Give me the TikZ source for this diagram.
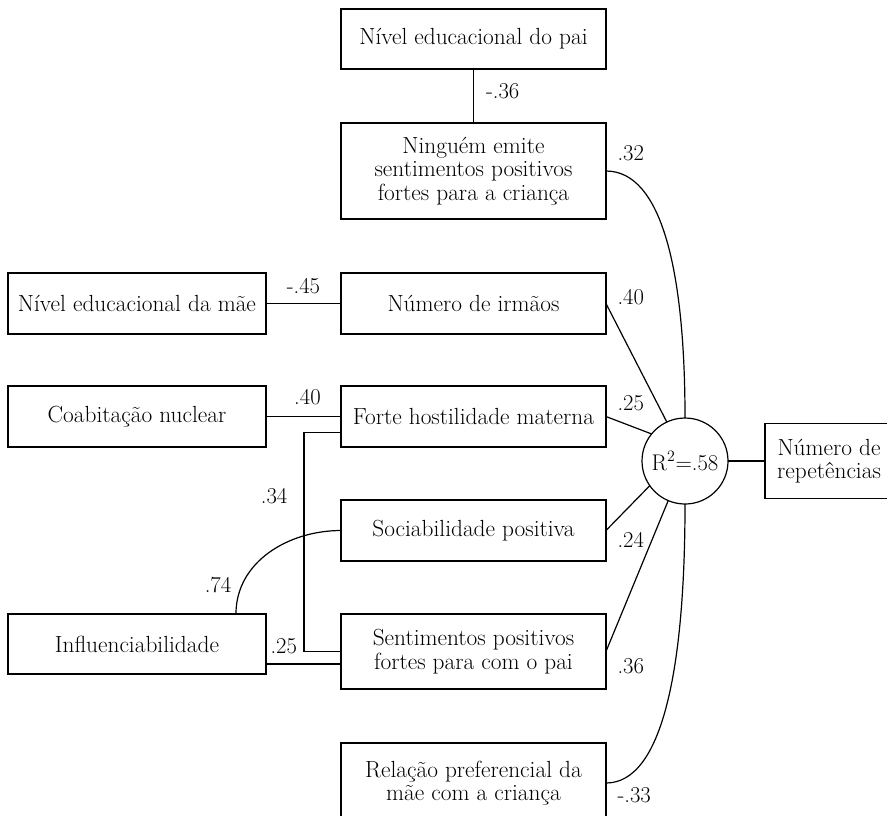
\documentclass[tikz,border=0pt]{standalone}
\usepackage{tikz}
\usetikzlibrary{positioning, calc}

\begin{document}
\begin{tikzpicture}[line width=0.9pt]

	\tikzstyle{var}=[draw=black, align=center, inner sep=0, outer sep=0, minimum width=198.75pt, minimum height=45.75pt, font=\fontsize{17.5}{17.6}\selectfont];
	\tikzstyle{ext}=[var, minimum width=193.5pt];
	\tikzstyle{coef}=[inner sep=0, font=\fontsize{17}{17.6}\selectfont];

	\useasboundingbox (0,0) rectangle (665.25pt,-611.25pt);
	\clip (0,0) rectangle (665.25pt,-611.25pt);

	\node (pai) [var, minimum height=45pt] at (355.1pt,-29.25pt) {Nível educacional do pai};
	\node (nin) [var, minimum height=72pt, below=40.5pt of pai] {Ninguém emite \\ sentimentos positivos \\ fortes para a criança};
	\node (irm) [var, below=40.5pt of nin] {Número de irmãos};
	\node (hos) [var, below=39pt of irm] {Forte hostilidade materna};
	\node (soc) [var, below=39.75pt of hos] {Sociabilidade positiva};
	\node (sen) [var, minimum height=56.25pt, below=39.75pt of soc] {Sentimentos positivos \\ fortes para com o pai};
	\node (rel) [var, minimum height=60pt, below=40.5pt of sen] {Relação preferencial da \\ mãe com a criança};

	\node (mae) [ext, left=56.25pt of irm] {Nível educacional da mãe};
	\node (coa) [ext, left=56.25pt of hos] {Coabitação nuclear};
	\node (inf) [ext, minimum height=45pt, below left=0pt and 56.25pt of sen.north west] {Influenciabilidade};

	\node (r2) [circle, draw, inner sep=0, outer sep=0, minimum size=64.5pt, font=\fontsize{17}{17.6}\selectfont] at (513.75pt,-345.75pt) {R\textsuperscript{2}=.58};
	\node (rep) [var, minimum width=96pt, minimum height=56.25pt, right=27.75pt of r2] {Número de \\ repetências};

	\draw [-] (pai) -- (nin) node [coef, midway, right=9pt, yshift=3.75pt] {-.36};
	\draw [-] (mae) -- (irm) node [coef, midway, above=6.75pt] {-.45};
	\draw [-] (coa) -- (hos) node [coef, midway, above=8pt, xshift=3pt] {.40};
	\draw [-] ([yshift=-12pt]hos.west) -- ++(-27.75pt,0) |- (sen.west) node [coef, pos=.145, left=12pt] {.34};
	\draw [-] ([yshift=-15pt]inf.east) -- ([yshift=-15pt]inf.east -| sen.west) node [coef, pos=0, anchor=south west, xshift=3pt, yshift=7.5pt] {.25};
	\draw [-] ([xshift=-22.5pt]inf.north east) to [out=90, in=180] node [coef, pos=.2, left=7.5pt] {.74} (soc.west);

	\draw [-] (nin.east) to [out=0, in=90, out looseness=.55, in looseness=1.45] node [coef, pos=0, anchor=south west, xshift=8.25pt, yshift=7.5pt] {.32} (r2.north);
	\draw [-] (irm.east) -- (r2.115) node [coef, pos=0, anchor=south west, xshift=8.25pt, yshift=-1.5pt] {.40};
	\draw [-] (hos.east) -- (r2.141) node [coef, pos=0, anchor=south west, xshift=8.25pt, yshift=3.75pt] {.25};
	\draw [-] (soc.east) -- (r2.215) node [coef, pos=0, anchor=north west, xshift=8.25pt, yshift=-1pt] {.24};
	\draw [-] (sen.east) -- (r2.247) node [coef, pos=0, anchor=north west, xshift=8.25pt, yshift=-4.5pt] {.36};
	\draw [-] (rel.east) to [out=0, in=270, out looseness=.5, in looseness=1.45] node [coef, pos=0, anchor=north west, xshift=8.25pt, yshift=-3pt] {-.33} (r2.south);
	\draw [-] (r2) -- (rep);

\end{tikzpicture}
\end{document}
